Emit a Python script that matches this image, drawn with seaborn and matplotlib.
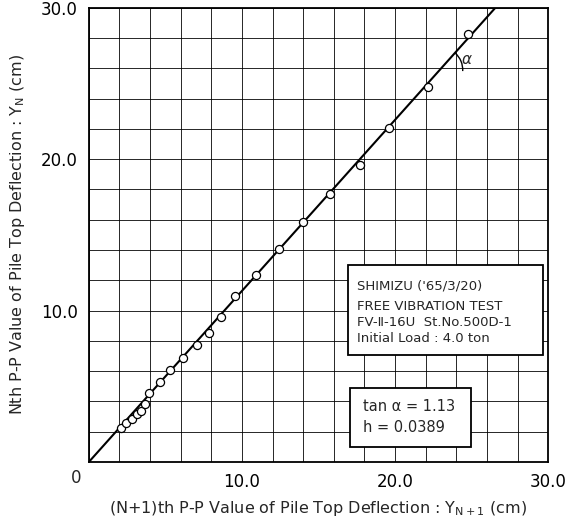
import numpy as np
import pandas as pd
import seaborn as sns
import matplotlib.pyplot as plt
from matplotlib.patches import Arc, Rectangle

# values (cm)
y_next = [2.07, 2.40, 2.79, 3.12, 3.38, 3.68, 3.94, 4.64, 5.29, 6.12, 7.04,
          7.82, 8.61, 9.56, 10.92, 12.44, 14.00, 15.75, 17.71, 19.63, 22.18, 24.77]
y_n = [2.27, 2.56, 2.82, 3.15, 3.39, 3.83, 4.58, 5.27, 6.08, 6.87, 7.73,
       8.55, 9.56, 10.99, 12.36, 14.10, 15.86, 17.67, 19.65, 22.06, 24.80, 28.24]
tan_alpha = 1.13
h_value = 0.0389
axis_max = 30.0
major_ticks = [10, 20, 30]
tick_labels = ["10.0", "20.0", "30.0"]
info_lines = ["SHIMIZU ('65/3/20)", "FREE VIBRATION TEST",
              "FV-Ⅱ-16U  St.No.500D-1", "Initial Load : 4.0 ton"]

df = pd.DataFrame({"Y_next": y_next, "Y_n": y_n})
fit_x = np.array([0.0, axis_max / tan_alpha])
fit = pd.DataFrame({"x": fit_x, "y": tan_alpha * fit_x})

sns.set_style("white")
plt.rcParams['font.family'] = ['DejaVu Sans']

fig = plt.figure(figsize=(5.77, 5.22), dpi=100)
ax = fig.add_axes([0.154, 0.115, 0.796, 0.870])

sns.lineplot(data=fit, x="x", y="y", ax=ax, color="black", linewidth=1.5, zorder=3)
sns.scatterplot(data=df, x="Y_next", y="Y_n", ax=ax, s=34, facecolor="white",
                edgecolor="black", linewidth=0.9, zorder=4)

ax.set_xlim(0, axis_max)
ax.set_ylim(0, axis_max)
ax.set_xticks(major_ticks)
ax.set_xticklabels(tick_labels, fontsize=12)
ax.set_yticks(major_ticks)
ax.set_yticklabels(tick_labels, fontsize=12)
ax.set_xticks(np.arange(0, 31, 2), minor=True)
ax.set_yticks(np.arange(0, 31, 2), minor=True)
ax.grid(which="both", color="black", linewidth=0.7, alpha=0.85)
ax.tick_params(which="major", direction="out", length=4, width=1, pad=4, colors="black")
ax.tick_params(which="minor", length=0)
for s in ax.spines.values():
    s.set_color("black")
    s.set_linewidth(1.3)

ax.text(-0.8, -1.05, "0", fontsize=12, ha="center", va="center", clip_on=False)

ax.set_xlabel("(N+1)th P-P Value of Pile Top Deflection : $\\mathregular{Y_{N+1}}$ (cm)",
              fontsize=11.5, labelpad=6)
ax.set_ylabel("Nth P-P Value of Pile Top Deflection : $\\mathregular{Y_N}$ (cm)",
              fontsize=11.5, labelpad=10)

# angle mark
cx = 25.9 / tan_alpha
ax.add_patch(Arc((cx, 25.9), 3.0, 3.0, theta1=-3, theta2=48.5, color="black", lw=1, zorder=3))
ax.text(24.7, 26.6, "α", fontsize=11, style="italic", ha="center", va="center")

# info boxes
ax.add_patch(Rectangle((16.93, 7.07), 12.74, 5.95, facecolor="white", edgecolor="black",
                       linewidth=1.3, zorder=5))
for txt, yy in zip(info_lines, [11.6, 10.3, 9.22, 8.14]):
    ax.text(17.5, yy, txt, fontsize=9.5, ha="left", va="center", zorder=6)

ax.add_patch(Rectangle((17.06, 0.99), 7.91, 3.9, facecolor="white", edgecolor="black",
                       linewidth=1.3, zorder=5))
ax.text(17.9, 3.64, f"tan α = {tan_alpha:.2f}", fontsize=10.5, ha="left", va="center", zorder=6)
ax.text(17.9, 2.25, f"h = {h_value}", fontsize=10.5, ha="left", va="center", zorder=6)

fig.savefig("out.png", dpi=100)
